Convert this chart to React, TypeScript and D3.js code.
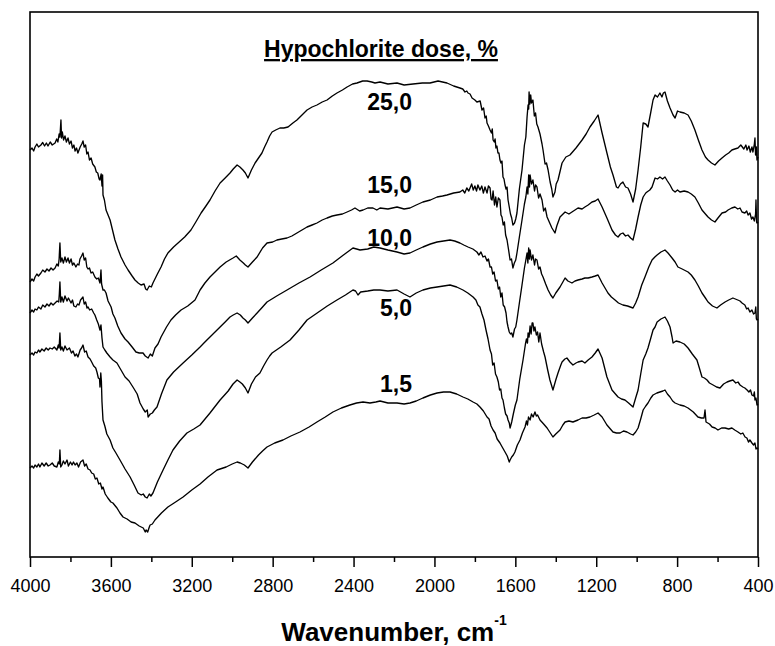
import React, { useEffect, useRef } from "react";
import * as d3 from "d3";

type Pt = [number, number];

const doseLabels = ["25,0", "15,0", "10,0", "5,0", "1,5"];
const xTicks = [4000, 3600, 3200, 2800, 2400, 2000, 1600, 1200, 800, 400];
const xMinorTicks = [3800, 3400, 3000, 2600, 2200, 1800, 1400, 1000, 600];

const dose25: Pt[] = [
  [4000,81.4],[3990,81.8],[3982,81.2],[3975,82.0],[3966,82.6],[3958,82.0],[3946,82.4],[3937,82.9],[3928,82.2],[3919,82.8],[3911,82.2],[3900,83.0],[3890,82.4],[3876,82.8],[3868,83.6],[3862,83.0],[3856,84.6],[3852,84.0],[3847,87.4],[3844,83.8],[3840,85.0],[3834,83.4],[3827,84.2],[3820,83.0],[3812,83.8],[3805,82.6],[3797,83.2],[3790,81.8],[3783,82.4],[3777,81.2],[3770,81.8],[3763,80.8],[3752,82.0],[3744,82.6],[3738,83.2],[3732,82.0],[3725,82.4],[3719,80.6],[3713,81.0],[3706,79.4],[3698,79.8],[3690,78.6],[3679,78.0],[3672,77.0],[3665,76.8],[3658,75.6],[3654,75.4],[3648,76.6],[3644,74.2],[3641,76.4],[3639,72.4],[3632,71.4],[3624,69.4],
  [3614,68.4],[3604,67.4],[3592,65.4],[3580,63.4],[3565,61.6],[3550,60.0],[3530,58.4],[3515,57.4],[3495,56.2],[3481,55.4],[3465,54.8],[3451,54.4],[3436,54.6],[3428,53.6],[3421,53.4],[3410,54.2],[3400,54.0],[3392,54.8],[3370,56.6],[3352,58.0],[3335,59.6],[3318,60.8],[3290,62.0],[3268,62.8],[3235,64.0],[3204,65.4],[3180,67.0],[3154,68.8],[3130,70.2],[3110,71.4],[3085,73.2],[3060,74.8],[3035,75.8],[3011,76.8],[2995,77.6],[2976,78.4],[2962,78.0],[2947,77.4],[2935,76.8],[2922,75.8],[2905,77.4],[2887,78.8],[2870,79.8],[2853,80.8],[2840,82.0],[2828,83.0],[2815,84.2],[2803,85.0],[2785,85.4],[2764,85.8],[2745,85.8],[2724,86.0],[2700,86.8],[2680,87.4],[2655,88.4],[2630,89.4],[2605,90.0],[2581,90.4],[2555,91.0],[2531,91.4],[2505,92.2],[2482,92.8],[2455,93.4],[2432,94.0],[2405,94.6],[2383,94.8],[2355,95.2],[2333,95.2],[2310,95.0],[2294,94.8],[2269,95.0],[2230,94.6],[2185,94.8],[2150,94.4],[2106,94.6],[2060,94.8],[2022,94.8],[1982,95.2],[1960,95.0],[1938,94.8],[1905,94.2],[1874,93.8],[1860,93.6],[1849,93.0],[1840,93.2],[1834,92.8],[1824,92.6],[1814,91.8],[1800,91.4],[1790,91.0],
  [1774,91.2],[1765,89.4],[1757,89.8],[1750,87.8],[1744,88.2],[1740,86.8],[1733,86.2],[1725,85.4],[1718,84.8],[1714,85.6],[1710,83.4],[1704,83.0],[1700,83.6],[1696,81.8],[1691,82.2],[1686,80.8],[1681,80.8],[1676,79.4],[1671,78.8],[1666,79.2],[1661,76.0],[1656,75.6],[1651,74.4],[1646,73.6],[1641,74.0],[1636,71.4],[1624,68.6],[1618,67.8],[1612,66.4],[1604,66.8],[1598,67.6],[1592,68.8],[1580,73.6],[1567,77.4],[1555,82.4],[1548,84.0],[1542,88.0],[1537,90.4],[1534,89.6],[1532,93.0],[1528,90.6],[1524,92.4],[1520,90.8],[1513,91.4],[1506,88.2],[1500,88.8],[1494,86.6],[1488,86.0],[1478,84.6],[1468,82.6],[1463,81.4],[1453,78.6],[1446,78.8],[1438,77.4],[1428,75.0],[1420,73.6],[1414,72.0],[1404,73.0],[1398,74.6],[1389,75.4],
  [1369,78.8],[1350,80.0],[1330,80.4],[1300,81.8],[1270,83.4],[1250,84.6],[1231,86.0],[1210,87.2],[1191,88.4],[1171,84.8],[1147,80.8],[1130,78.0],[1117,76.4],[1100,74.0],[1092,73.8],[1080,74.6],[1068,75.0],[1055,74.0],[1043,73.8],[1030,72.6],[1018,71.0],[1005,73.6],[993,77.4],[980,82.0],[968,86.8],[955,86.6],[944,86.0],[930,89.0],[919,91.4],[909,92.4],[897,92.0],[885,92.8],[875,92.0],[868,92.8],[860,93.0],[848,91.2],[835,89.8],[820,88.4],[810,87.8],[798,89.2],[786,89.0],[765,88.8],[746,88.4],[730,87.2],[712,85.4],[695,83.4],[677,81.4],[660,80.0],[647,79.4],[630,78.8],[613,78.4],[595,79.2],[578,79.8],[560,80.4],[545,80.8],[529,81.4],[515,81.6],[499,81.8],[485,82.4],[470,81.6],[460,82.4],[454,81.4],[445,82.2],[438,81.0],[430,82.0],[425,81.0],[418,82.6],[415,83.8],[412,80.4],[408,82.0],[405,79.4],[400,80.0],
];

const dose15: Pt[] = [
  [4000,55.0],[3990,55.6],[3982,55.2],[3975,56.0],[3966,56.6],[3958,56.2],[3946,56.8],[3937,57.4],[3926,57.0],[3916,57.6],[3906,57.2],[3896,57.8],[3886,57.4],[3876,57.8],[3867,58.6],[3860,58.2],[3856,59.6],[3852,62.8],[3848,59.0],[3842,59.8],[3835,58.8],[3827,60.0],[3820,59.0],[3812,59.8],[3805,58.8],[3797,59.6],[3790,58.4],[3783,58.8],[3773,58.0],[3765,58.6],[3758,58.4],[3753,59.6],[3745,60.2],[3738,60.8],[3732,59.4],[3725,59.8],[3719,58.0],[3713,57.6],[3706,57.8],[3698,56.8],[3690,57.0],[3679,56.0],[3670,55.6],[3662,55.8],[3654,54.8],[3649,57.4],[3646,54.6],[3639,53.4],[3632,53.4],[3624,52.8],[3614,51.2],[3604,50.4],[3599,50.0],[3590,48.6],[3580,47.8],[3566,46.2],[3550,44.8],[3530,43.6],[3515,43.0],[3495,42.0],[3476,41.0],[3460,40.8],[3441,40.8],[3430,40.2],[3416,39.8],[3405,40.6],[3395,40.2],[3382,41.8],[3367,42.6],[3352,44.0],[3325,46.0],[3303,47.4],[3280,48.4],[3253,49.4],[3220,50.2],[3184,51.4],[3159,53.4],
  [3135,54.8],[3110,56.0],[3085,57.0],[3060,58.0],[3030,59.0],[2996,59.8],[2980,60.2],[2962,59.4],[2945,58.8],[2935,58.4],[2922,58.0],[2900,59.0],[2877,60.0],[2850,61.8],[2828,62.8],[2800,63.0],[2779,63.4],[2755,63.6],[2729,63.8],[2705,64.2],[2680,64.8],[2655,65.4],[2630,66.0],[2605,66.4],[2581,66.8],[2555,67.4],[2531,67.8],[2505,68.2],[2482,68.4],[2455,68.6],[2432,69.0],[2410,69.4],[2393,69.8],[2370,69.2],[2353,69.4],[2330,69.8],[2304,69.8],[2285,69.4],[2269,69.8],[2230,69.6],[2185,70.0],[2150,69.6],[2121,69.8],[2090,70.4],[2057,71.0],[2020,71.4],[1987,72.0],[1960,72.2],[1938,72.4],[1905,72.8],[1874,73.0],
  [1860,73.4],[1850,72.8],[1840,73.8],[1830,73.2],[1824,73.8],[1816,74.6],[1808,73.4],[1800,74.2],[1792,73.2],[1785,74.4],[1775,73.4],[1766,74.2],[1758,72.8],[1750,74.0],[1740,72.8],[1733,74.2],[1725,73.8],[1720,71.6],[1715,71.4],[1710,73.2],[1703,70.4],[1697,72.0],[1691,70.0],[1684,71.8],[1676,71.4],[1671,68.4],[1666,68.0],[1660,66.4],[1654,67.0],[1648,64.4],[1641,63.4],[1634,61.6],[1626,59.4],[1619,59.6],[1612,57.8],[1605,58.8],[1598,59.4],[1592,60.8],[1580,64.0],[1567,67.4],[1555,70.6],[1548,72.0],[1542,74.0],[1538,72.6],[1534,76.4],[1530,74.0],[1527,76.4],[1520,74.6],[1513,75.4],[1505,73.2],[1500,74.4],[1493,74.0],[1485,71.8],[1478,72.6],[1468,71.4],[1460,69.2],[1452,69.8],[1443,68.0],[1430,66.8],[1419,65.8],[1404,64.8],[1395,66.2],[1379,68.0],
  [1354,69.0],[1335,68.6],[1320,69.0],[1305,69.4],[1290,69.8],[1270,69.6],[1256,70.0],[1240,70.4],[1221,71.0],[1205,71.2],[1191,71.6],[1171,70.0],[1147,67.8],[1122,65.4],[1105,64.4],[1092,64.0],[1080,64.6],[1068,64.8],[1055,64.2],[1043,64.4],[1030,63.8],[1018,63.4],[1005,65.6],[993,68.0],[980,70.4],[968,72.0],[955,72.8],[949,73.0],[935,73.4],[924,74.0],[909,75.8],[897,75.6],[885,76.0],[872,75.6],[860,76.0],[848,75.2],[835,74.4],[822,73.4],[810,73.0],[798,73.4],[786,73.0],[765,73.2],[746,73.0],[730,72.6],[712,72.0],[695,70.8],[677,69.4],[660,68.6],[647,68.0],[630,67.4],[613,67.0],[598,67.8],[578,68.8],[560,69.0],[548,69.4],[530,69.8],[514,70.0],[500,69.6],[489,69.8],[479,69.0],[465,68.8],[456,69.2],[449,68.4],[440,68.8],[432,67.6],[425,68.0],[418,67.2],[412,68.6],[410,71.4],[407,67.0],[405,66.8],[400,67.0],
];

const dose10: Pt[] = [
  [4000,48.8],[3990,49.4],[3982,49.0],[3975,49.6],[3966,49.4],[3958,50.0],[3946,49.6],[3937,50.4],[3926,50.0],[3916,50.6],[3906,50.2],[3896,50.8],[3886,50.4],[3876,50.8],[3866,51.2],[3858,51.0],[3855,52.6],[3852,55.0],[3848,51.0],[3842,52.0],[3835,51.0],[3827,52.2],[3817,51.2],[3810,51.8],[3797,50.8],[3790,51.4],[3783,50.2],[3773,50.0],[3765,50.6],[3758,50.4],[3750,51.4],[3738,52.0],[3732,50.6],[3725,51.0],[3718,49.8],[3713,50.0],[3705,49.4],[3695,49.6],[3685,48.8],[3679,48.4],[3670,47.4],[3662,46.6],[3654,45.4],[3649,46.4],[3644,43.8],[3639,42.0],[3630,41.4],[3620,40.8],[3604,40.0],[3590,39.4],[3570,38.8],[3550,37.4],[3530,36.0],[3510,35.2],[3491,34.0],[3470,32.6],[3456,30.8],[3440,29.6],[3430,29.0],[3420,29.4],[3416,28.0],[3405,28.6],[3395,28.8],[3385,29.4],[3372,30.0],[3350,32.6],[3323,35.4],[3290,37.0],[3243,38.8],[3200,40.4],[3159,42.0],
  [3135,43.0],[3110,44.0],[3085,45.0],[3060,46.0],[3035,47.0],[3011,48.0],[2995,48.4],[2976,48.8],[2960,48.4],[2947,47.8],[2935,47.4],[2922,46.8],[2900,47.8],[2877,48.8],[2850,50.0],[2828,51.0],[2780,52.2],[2729,53.4],[2670,54.8],[2615,56.0],[2560,57.4],[2502,58.8],[2450,60.4],[2403,61.8],[2385,61.6],[2368,61.4],[2330,61.6],[2300,62.0],[2269,61.8],[2230,61.4],[2185,61.0],[2150,60.6],[2121,60.8],[2090,61.4],[2057,62.0],[2020,62.6],[1987,63.0],[1955,63.2],[1923,63.4],[1900,63.2],[1874,62.8],[1855,62.4],[1834,62.0],[1810,61.6],[1790,61.0],
  [1780,60.4],[1770,61.0],[1760,60.0],[1750,60.2],[1740,59.2],[1733,59.6],[1725,58.0],[1718,58.0],[1712,56.6],[1705,57.0],[1698,55.2],[1691,55.4],[1684,53.6],[1678,54.0],[1672,52.0],[1666,52.8],[1660,50.4],[1653,50.0],[1646,48.8],[1641,47.0],[1636,46.0],[1630,45.0],[1624,44.6],[1618,44.8],[1612,44.0],[1604,45.6],[1598,46.0],[1592,47.4],[1580,50.8],[1567,54.4],[1555,57.8],[1548,59.4],[1542,60.8],[1538,58.8],[1534,61.8],[1530,59.6],[1527,61.4],[1520,59.4],[1513,60.4],[1505,58.4],[1500,59.6],[1493,59.4],[1485,57.6],[1478,58.0],[1470,56.6],[1463,56.0],[1450,54.6],[1438,53.4],[1425,52.4],[1414,51.8],
  [1400,52.8],[1379,54.0],[1365,55.0],[1354,55.8],[1340,55.2],[1320,54.8],[1305,55.2],[1290,55.4],[1270,55.6],[1256,55.8],[1240,55.8],[1221,56.0],[1205,56.2],[1191,56.4],[1171,54.8],[1142,52.8],[1125,52.0],[1107,51.4],[1090,50.8],[1068,50.4],[1045,50.2],[1018,49.8],[1005,50.8],[993,52.0],[975,54.4],[959,56.0],[940,58.0],[924,59.4],[910,60.0],[899,60.4],[880,61.0],[860,61.4],[845,60.8],[825,59.8],[810,59.0],[796,58.0],[775,57.6],[746,57.0],[730,56.4],[712,55.4],[695,54.2],[677,52.8],[660,51.8],[647,51.0],[625,50.2],[603,49.8],[585,50.4],[563,51.0],[545,51.4],[524,51.8],[500,51.4],[489,51.2],[479,50.8],[465,50.4],[456,49.6],[449,49.8],[440,49.0],[430,49.4],[422,48.6],[415,48.8],[411,50.0],[408,47.6],[405,47.4],[400,47.6],
];

const dose5: Pt[] = [
  [4000,40.4],[3990,40.8],[3982,40.4],[3975,41.0],[3966,40.8],[3958,41.4],[3951,41.0],[3941,41.6],[3930,41.2],[3920,41.8],[3910,41.4],[3901,41.8],[3890,41.6],[3880,42.0],[3867,41.4],[3860,42.4],[3856,41.8],[3852,44.8],[3848,41.4],[3842,42.0],[3835,41.2],[3827,42.2],[3817,41.4],[3805,41.8],[3795,40.8],[3787,41.2],[3778,40.2],[3770,40.6],[3763,40.0],[3752,41.4],[3745,41.8],[3738,42.4],[3730,41.0],[3722,41.2],[3713,40.0],[3703,39.6],[3695,39.0],[3685,38.2],[3675,37.8],[3669,37.0],[3662,35.8],[3656,35.6],[3654,34.0],[3650,36.8],[3647,35.2],[3644,31.0],[3639,27.4],[3630,26.2],[3620,24.6],[3604,23.4],[3590,21.8],[3575,20.8],[3555,19.4],[3530,17.6],[3505,16.0],[3485,14.4],[3466,12.8],[3450,12.4],[3440,12.6],[3430,12.0],[3421,11.8],[3410,12.6],[3402,12.2],[3392,12.8],[3370,15.0],[3342,17.4],[3318,19.4],[3293,21.4],[3260,23.2],[3224,24.8],[3190,25.6],[3159,26.4],[3110,28.8],[3060,31.4],[3020,33.2],[2996,34.6],[2976,35.4],[2962,35.0],[2950,34.6],[2935,33.8],[2922,32.8],[2905,34.6],[2885,36.0],[2863,36.8],
  [2845,38.2],[2828,39.4],[2815,40.2],[2803,40.8],[2760,42.0],[2714,43.4],[2670,45.4],[2630,47.4],[2580,48.8],[2530,50.2],[2482,51.4],[2440,52.4],[2403,53.4],[2390,53.2],[2378,52.4],[2365,53.0],[2330,53.2],[2300,53.4],[2269,53.4],[2230,53.2],[2185,53.4],[2150,52.6],[2121,52.0],[2090,52.8],[2057,53.4],[2020,53.8],[1987,54.0],[1955,54.2],[1923,54.4],[1890,54.0],[1859,53.4],[1835,52.8],[1809,52.0],
  [1795,51.4],[1785,50.4],[1775,50.0],[1765,48.6],[1755,47.4],[1745,45.4],[1735,43.6],[1725,41.4],[1718,40.6],[1712,38.4],[1705,38.8],[1698,36.6],[1691,36.0],[1684,35.0],[1678,33.4],[1672,33.6],[1666,31.8],[1661,31.4],[1654,29.8],[1648,28.6],[1641,28.2],[1636,27.4],[1630,26.8],[1626,25.8],[1618,27.0],[1610,28.6],[1600,30.4],[1592,31.4],[1578,35.6],[1562,39.4],[1550,42.6],[1545,43.6],[1540,42.8],[1537,44.8],[1532,44.0],[1527,46.2],[1522,44.6],[1517,46.8],[1513,46.8],[1508,45.2],[1503,46.0],[1496,44.4],[1490,45.0],[1484,43.0],[1478,44.8],[1470,42.6],[1460,41.0],[1453,40.0],[1440,37.4],[1429,35.4],[1414,33.4],
  [1400,35.4],[1389,36.8],[1375,38.4],[1369,39.0],[1355,39.6],[1345,39.8],[1330,39.0],[1315,38.4],[1300,38.8],[1290,39.0],[1270,39.2],[1256,38.8],[1240,39.4],[1221,40.0],[1205,40.8],[1191,41.6],[1171,39.8],[1147,36.0],[1122,33.4],[1105,32.6],[1092,32.0],[1075,31.6],[1058,31.4],[1040,30.8],[1018,30.0],[1005,31.8],[993,33.4],[980,36.6],[968,39.4],[955,40.6],[944,41.8],[930,43.8],[919,45.4],[909,46.0],[899,47.0],[880,47.6],[860,48.0],[848,47.2],[835,46.0],[825,44.0],[820,42.8],[805,43.2],[786,43.0],[765,42.6],[746,41.8],[725,40.6],[702,39.4],[690,37.8],[677,36.0],[665,35.8],[652,35.4],[640,34.8],[622,34.4],[605,34.0],[588,33.8],[570,34.6],[553,35.0],[540,35.2],[524,35.4],[510,34.8],[499,35.0],[489,34.4],[475,34.0],[465,33.8],[454,33.4],[445,33.0],[437,33.4],[430,32.4],[422,32.2],[418,33.0],[415,31.4],[410,31.8],[405,30.4],[400,30.6],
];

const dose1_5: Pt[] = [
  [4000,17.8],[3990,18.2],[3982,17.8],[3975,18.4],[3966,18.0],[3958,18.6],[3951,18.0],[3941,18.8],[3930,18.2],[3920,18.8],[3910,18.2],[3901,18.4],[3890,18.8],[3880,18.2],[3867,18.0],[3860,19.0],[3855,18.6],[3852,21.4],[3848,18.0],[3842,18.4],[3835,19.2],[3827,18.6],[3817,19.4],[3810,18.2],[3800,19.0],[3792,18.4],[3785,19.0],[3777,18.4],[3768,18.8],[3760,18.0],[3750,19.0],[3738,19.4],[3730,18.2],[3722,18.6],[3713,17.6],[3703,17.4],[3695,16.8],[3685,16.6],[3677,15.6],[3669,15.8],[3660,14.6],[3652,14.8],[3644,13.6],[3639,14.0],[3628,12.6],[3615,11.8],[3600,11.0],[3590,10.8],[3570,9.8],[3555,8.8],[3540,8.0],[3520,7.6],[3500,7.0],[3481,6.8],[3460,6.2],[3440,5.8],[3430,5.0],[3426,5.4],[3418,5.0],[3410,6.0],[3406,6.4],[3395,6.6],[3382,7.4],[3350,8.8],[3318,10.0],[3280,11.0],[3243,12.0],[3200,13.4],[3159,14.6],[3120,16.0],[3075,17.4],[3030,18.0],[3000,18.6],[2976,19.0],[2960,18.8],[2940,18.4],[2922,17.8],[2900,19.0],[2870,20.4],[2850,21.2],[2828,22.0],
  [2790,22.8],[2749,23.4],[2710,24.2],[2665,25.0],[2620,26.0],[2581,27.0],[2540,28.0],[2502,29.0],[2460,29.8],[2418,30.4],[2385,30.8],[2353,31.0],[2319,30.8],[2290,31.0],[2269,31.2],[2230,30.8],[2185,30.8],[2150,30.6],[2121,30.8],[2090,31.2],[2057,31.8],[2020,32.4],[1987,32.8],[1955,33.0],[1923,33.0],[1890,32.6],[1859,32.0],[1835,31.6],[1809,31.0],[1790,30.6],[1775,30.0],[1758,29.2],[1740,28.0],[1730,27.6],[1720,26.2],[1710,25.4],[1700,24.8],[1690,23.6],[1676,22.8],[1665,22.0],[1651,21.0],[1640,20.2],[1630,19.0],[1626,19.4],[1618,20.0],[1610,20.4],[1602,21.0],[1590,22.4],[1577,23.4],[1565,24.8],[1552,26.0],[1545,27.2],[1540,26.4],[1535,28.0],[1527,27.4],[1520,28.6],[1512,28.0],[1503,29.0],[1496,28.2],[1490,28.4],[1478,27.4],[1460,26.6],[1443,25.8],[1430,25.0],[1414,24.0],
  [1400,24.6],[1379,25.4],[1365,26.4],[1354,27.0],[1335,27.2],[1315,27.0],[1290,27.4],[1270,27.8],[1250,27.8],[1231,28.0],[1210,28.4],[1191,28.8],[1171,28.0],[1147,26.4],[1130,25.6],[1117,25.0],[1100,24.8],[1082,24.8],[1065,25.2],[1048,25.0],[1030,24.6],[1018,24.4],[1005,25.0],[993,25.8],[980,27.6],[968,29.4],[955,30.2],[944,30.8],[930,31.8],[919,32.4],[900,32.8],[885,33.0],[870,33.2],[860,33.4],[848,32.6],[835,32.0],[822,31.2],[810,30.8],[798,30.6],[786,30.4],[765,30.2],[746,29.8],[720,29.0],[697,28.0],[680,27.8],[667,27.8],[662,29.4],[657,27.0],[640,26.6],[627,26.0],[612,25.8],[598,25.4],[580,25.8],[563,25.8],[545,25.6],[529,25.8],[515,25.4],[499,25.0],[485,24.6],[475,24.8],[464,24.0],[455,23.8],[447,23.0],[440,23.4],[430,22.8],[422,22.4],[415,22.8],[410,21.6],[405,21.8],[400,21.6],
];

const spectra: Pt[][] = [dose25, dose15, dose10, dose5, dose1_5];

const FONT = "'Liberation Sans', Arial, Helvetica, sans-serif";

export default function App() {
  const W = 775;
  const H = 646;
  const x = d3.scaleLinear().domain([4000, 400]).range([30, 758]);
  const y = d3.scaleLinear().domain([0, 109]).range([557, 12]);
  const line = d3
    .line<Pt>()
    .x((d) => x(d[0]))
    .y((d) => y(d[1]));

  const axisRef = useRef<SVGGElement>(null);

  useEffect(() => {
    const g = d3.select(axisRef.current);
    g.selectAll("*").remove();
    const major = d3
      .axisBottom(x)
      .tickValues(xTicks)
      .tickSizeInner(10)
      .tickSizeOuter(0)
      .tickPadding(12)
      .tickFormat(d3.format("d"));
    const gm = g.append("g").call(major as any);
    gm.select(".domain").remove();
    gm.selectAll("line").attr("stroke", "#000").attr("stroke-width", 1.5);
    gm.selectAll("text")
      .attr("font-size", 18)
      .attr("font-family", FONT)
      .attr("fill", "#000");
    const minor = d3
      .axisBottom(x)
      .tickValues(xMinorTicks)
      .tickSizeInner(5)
      .tickSizeOuter(0)
      .tickFormat(() => "");
    const gn = g.append("g").call(minor as any);
    gn.select(".domain").remove();
    gn.selectAll("line").attr("stroke", "#000").attr("stroke-width", 1.5);
  }, []);

  // label baselines (in value units) for each dose curve
  const labelY = [89.4, 72.8, 62.2, 48.2, 33.0];

  return (
    <svg
      width={W}
      height={H}
      style={{ position: "absolute", left: 0, top: 0, background: "#fff" }}
      fontFamily={FONT}
    >
      <rect x={0} y={0} width={W} height={H} fill="#fff" />
      {spectra.map((s, i) => (
        <path
          key={i}
          d={line(s) || ""}
          fill="none"
          stroke="#000"
          strokeWidth={1.35}
          strokeLinejoin="round"
        />
      ))}
      <rect
        x={x(4000)}
        y={y(109)}
        width={x(400) - x(4000)}
        height={y(0) - y(109)}
        fill="none"
        stroke="#000"
        strokeWidth={1.6}
      />
      <g ref={axisRef} transform={`translate(0,${y(0)})`} />
      <text
        x={381}
        y={57}
        textAnchor="middle"
        fontSize={23}
        fontWeight="bold"
        style={{ textDecoration: "underline" }}
      >
        Hypochlorite dose, %
      </text>
      {doseLabels.map((t, i) => (
        <text
          key={t}
          x={412}
          y={y(labelY[i])}
          textAnchor="end"
          fontSize={23}
          fontWeight="bold"
        >
          {t}
        </text>
      ))}
      <text x={394} y={641} textAnchor="middle" fontSize={26} fontWeight="bold">
        Wavenumber, cm
        <tspan fontSize={14} dy={-16}>
          -1
        </tspan>
      </text>
    </svg>
  );
}
